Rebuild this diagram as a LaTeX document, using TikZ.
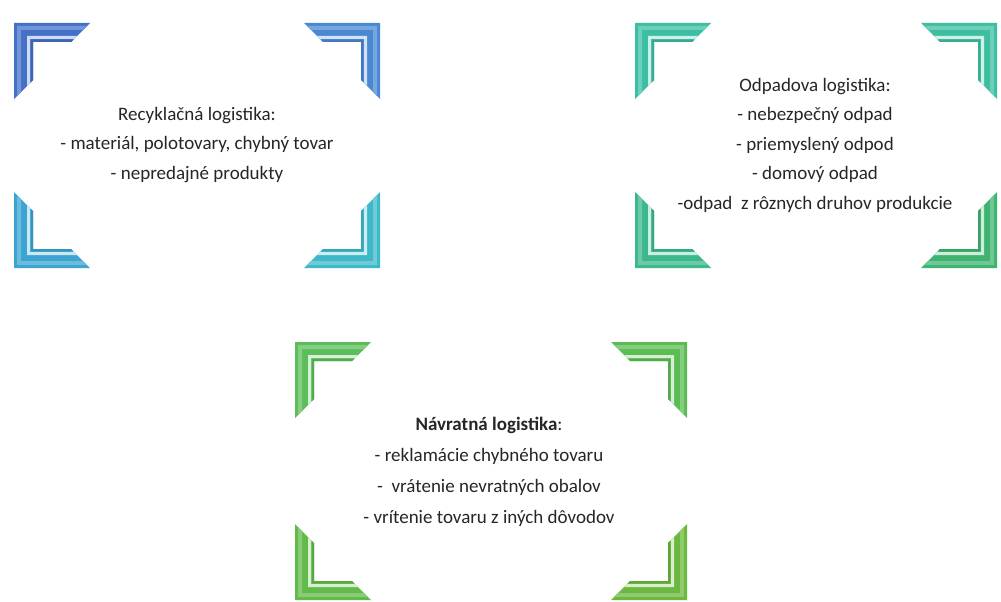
\documentclass[tikz,border=0pt]{standalone}
\usepackage{fontspec}
\setmainfont{Carlito}
\definecolor{bA}{RGB}{68,112,200}
\definecolor{bB}{RGB}{74,136,210}
\definecolor{bC}{RGB}{60,164,208}
\definecolor{bD}{RGB}{60,184,200}
\definecolor{tA}{RGB}{60,190,165}
\definecolor{tB}{RGB}{62,190,160}
\definecolor{tC}{RGB}{60,185,140}
\definecolor{tD}{RGB}{62,180,112}
\definecolor{gA}{RGB}{92,190,90}
\definecolor{gB}{RGB}{92,188,84}
\definecolor{gC}{RGB}{98,186,74}
\definecolor{gD}{RGB}{108,184,62}
\newcommand{\cstrip}[3]{\fill[#3] (#1,#1)--({76-#1},#1)--({76-#2},#2)--(#2,#2)--(#2,{76-#2})--(#1,{76-#1})--cycle;}
\newcommand{\framecorner}[5]{%
  \begin{scope}[shift={(#1,#2)},xscale=#3,yscale=#4]
    \cstrip{0}{19}{#5}
    \cstrip{3}{7}{#5!75!white}
    \cstrip{13}{16}{#5!25!white}
    \cstrip{17}{19}{#5!90!black}
  \end{scope}}
\tikzset{
  label text/.style={align=center, font=\fontsize{19}{29.5}\selectfont, text=black!85, inner sep=0pt}
}
\begin{document}
\begin{tikzpicture}[x=1pt,y=-1pt]
  \useasboundingbox (0,0) rectangle (1001,602);
  \fill[white] (0,0) rectangle (1001,602);
  % box 1
  \framecorner{14}{23}{1}{1}{bA}
  \framecorner{380}{23}{-1}{1}{bB}
  \framecorner{14}{268}{1}{-1}{bC}
  \framecorner{380}{268}{-1}{-1}{bD}
  % box 2
  \framecorner{635}{23}{1}{1}{tA}
  \framecorner{997}{23}{-1}{1}{tB}
  \framecorner{635}{268}{1}{-1}{tC}
  \framecorner{997}{268}{-1}{-1}{tD}
  % box 3
  \framecorner{295}{342}{1}{1}{gA}
  \framecorner{687}{342}{-1}{1}{gB}
  \framecorner{295}{600}{1}{-1}{gC}
  \framecorner{687}{600}{-1}{-1}{gD}
  \node[label text] (recy) at (197,145) {Recyklačná logistika:\\- materiál, polotovary, chybný tovar\\- nepredajné produkty};
  \node[label text] (odpad) at (815,145) {Odpadova logistika:\\- nebezpečný odpad\\- priemyslený odpod\\- domový odpad\\-odpad\ \ z rôznych druhov produkcie};
  \node[label text, font=\fontsize{19}{31}\selectfont] (navrat) at (489,472) {\textbf{Návratná logistika}:\\- reklamácie chybného tovaru\\-\ \ vrátenie nevratných obalov\\- vrítenie tovaru z iných dôvodov};
\end{tikzpicture}
\end{document}
